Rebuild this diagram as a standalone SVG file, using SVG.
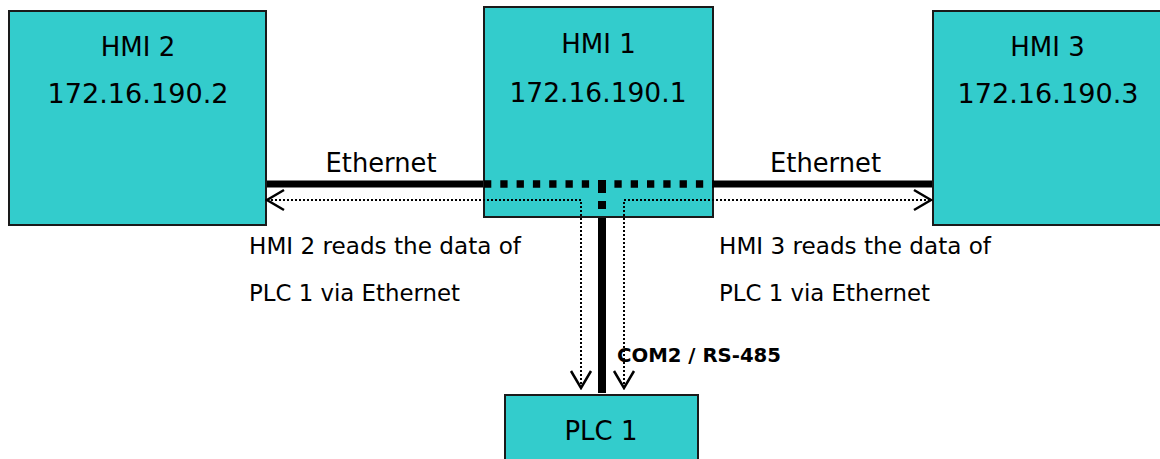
<svg xmlns="http://www.w3.org/2000/svg" width="1160" height="459" viewBox="0 0 1160 459">
<defs>
<style>
.box{fill:#33CCCC;stroke:#1a1a1a;stroke-width:2}
.big{font-family:"DejaVu Sans",Verdana,sans-serif;font-size:26px;fill:#000;text-anchor:middle}
.small{font-family:"DejaVu Sans",Verdana,sans-serif;font-size:23px;fill:#000}
.bold{font-family:"DejaVu Sans",Verdana,sans-serif;font-size:19px;font-weight:bold;fill:#000}
.thick{stroke:#000;stroke-width:7;fill:none}
.dots{stroke:#000;stroke-width:2;stroke-dasharray:2 2;fill:none}
</style>
<marker id="arr" viewBox="0 0 20 24" refX="18" refY="12" markerWidth="20" markerHeight="24" markerUnits="userSpaceOnUse" orient="auto-start-reverse">
<path d="M1,2 L18,12 L1,22" fill="none" stroke="#000" stroke-width="2.5"/>
</marker>
</defs>
<g id="connectors">
<line class="thick" x1="266" y1="184" x2="484" y2="184"/>
<line class="thick" x1="714" y1="184" x2="933" y2="184"/>
<line x1="602" y1="217" x2="602" y2="393" stroke="#000" stroke-width="8"/>
</g>
<g id="hmi2">
<rect class="box" x="9" y="11" width="257" height="214"/>
<text class="big" x="138" y="56">HMI 2</text>
<text class="big" x="138" y="103" textLength="181" lengthAdjust="spacingAndGlyphs">172.16.190.2</text>
</g>
<g id="hmi1">
<rect class="box" x="484" y="7" width="229" height="210"/>
<text class="big" x="598.5" y="53">HMI 1</text>
<text class="big" x="598" y="101.5" textLength="177" lengthAdjust="spacingAndGlyphs">172.16.190.1</text>
</g>
<g id="hmi3">
<rect class="box" x="933" y="11" width="230" height="214"/>
<text class="big" x="1047.5" y="56">HMI 3</text>
<text class="big" x="1048" y="103" textLength="181" lengthAdjust="spacingAndGlyphs">172.16.190.3</text>
</g>
<g id="plc1">
<rect class="box" x="505" y="395" width="193" height="70"/>
<text class="big" x="601" y="440">PLC 1</text>
</g>
<g id="connectors-over">
<line x1="484" y1="184" x2="714" y2="184" stroke="#000" stroke-width="7.3" stroke-dasharray="7.3 9"/>
<line x1="602" y1="180" x2="602" y2="217" stroke="#000" stroke-width="8" stroke-dasharray="13 8 8 20"/>
<polyline class="dots" points="581,388 581,200 267,200" marker-start="url(#arr)" marker-end="url(#arr)"/>
<polyline class="dots" points="624,388 624,200 931,200" marker-start="url(#arr)" marker-end="url(#arr)"/>
</g>
<g id="labels">
<text class="big" x="381" y="172" textLength="111" lengthAdjust="spacingAndGlyphs">Ethernet</text>
<text class="big" x="825.5" y="172" textLength="111" lengthAdjust="spacingAndGlyphs">Ethernet</text>
<text class="small" x="249" y="254" textLength="272" lengthAdjust="spacingAndGlyphs">HMI 2 reads the data of</text>
<text class="small" x="249" y="301" textLength="211" lengthAdjust="spacingAndGlyphs">PLC 1 via Ethernet</text>
<text class="small" x="719" y="254" textLength="272" lengthAdjust="spacingAndGlyphs">HMI 3 reads the data of</text>
<text class="small" x="719" y="301" textLength="211" lengthAdjust="spacingAndGlyphs">PLC 1 via Ethernet</text>
<text class="bold" x="617" y="361.5" textLength="164" lengthAdjust="spacingAndGlyphs">COM2 / RS-485</text>
</g>
</svg>
